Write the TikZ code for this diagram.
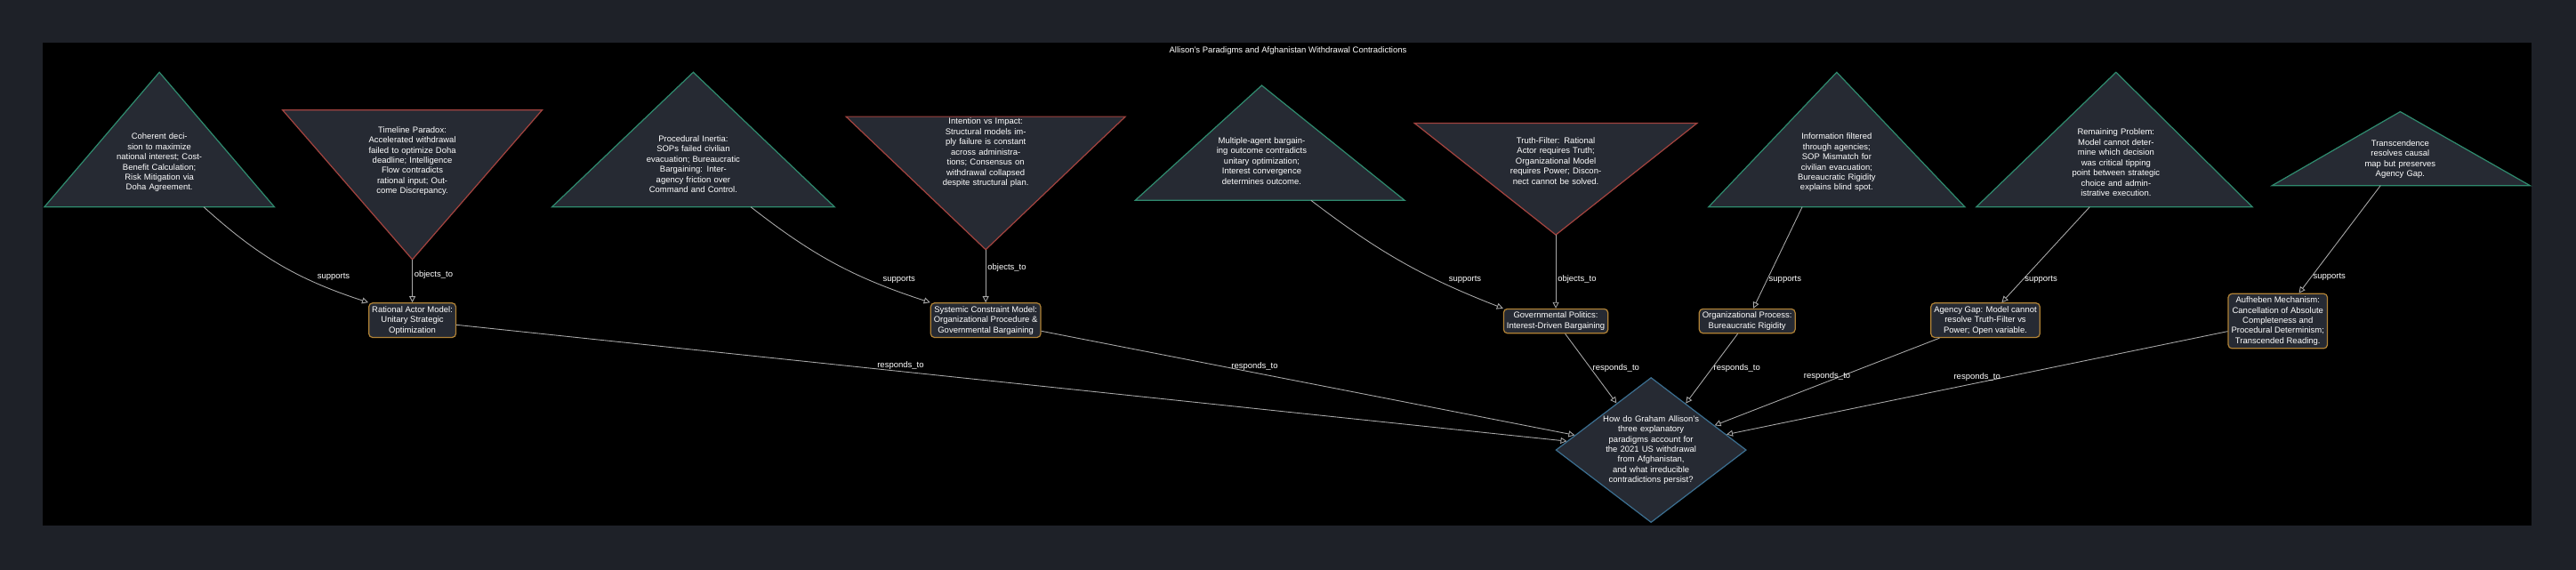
\documentclass[tikz,border=0pt]{standalone}
\usepackage{fontspec}
\setmainfont{Liberation Sans}
\usetikzlibrary{arrows.meta,shapes.geometric}
\definecolor{outerbg}{HTML}{1E2128}
\definecolor{shapefill}{HTML}{262A33}
\definecolor{upline}{HTML}{2F8A6E}
\definecolor{downline}{HTML}{A2433F}
\definecolor{boxline}{HTML}{B08236}
\definecolor{qline}{HTML}{3B6E8F}
\definecolor{edgegray}{HTML}{A8A8A8}
\tikzset{
  tiny/.style={font=\fontsize{2.7}{3.25}\selectfont, text=white, align=center},
  tritext/.style={tiny, inner sep=0pt},
  uptri/.style={draw=upline, fill=shapefill, line width=0.35pt, line join=miter},
  downtri/.style={draw=downline, fill=shapefill, line width=0.35pt, line join=miter},
  model/.style={tiny, draw=boxline, fill=shapefill, rounded corners=1.2pt, line width=0.35pt, inner sep=1pt},
  edge/.style={draw=edgegray, line width=0.25pt, -{Triangle[open,length=2pt,width=2pt]}},
  elabel/.style={tiny, inner sep=0.5pt}
}
\begin{document}
\begin{tikzpicture}[x=0.01847cm, y=-0.01847cm]

% ---------------------------
% Canvas
% ---------------------------
\fill[outerbg] (0,0) rectangle (1568,347);
\fill[black] (26,26) rectangle (1541,320);
\useasboundingbox (0,0) rectangle (1568,347);
\node[tiny] (title) at (784,31) {Allison's Paradigms and Afghanistan Withdrawal Contradictions};

% ---------------------------
% Triangles (claims and objections)
% ---------------------------
\draw[uptri]   (97,44) -- (167,126) -- (27,126) -- cycle;
\draw[downtri] (172,67) -- (330,67) -- (251,158) -- cycle;
\draw[uptri]   (422,44) -- (508,126) -- (336,126) -- cycle;
\draw[downtri] (515,71) -- (685,71) -- (600,152) -- cycle;
\draw[uptri]   (768,52) -- (855,122) -- (691,122) -- cycle;
\draw[downtri] (861,75) -- (1033,75) -- (947,143) -- cycle;
\draw[uptri]   (1118,44) -- (1196,126) -- (1040,126) -- cycle;
\draw[uptri]   (1288,44) -- (1371,126) -- (1203,126) -- cycle;
\draw[uptri]   (1461,68) -- (1540,113) -- (1383,113) -- cycle;

\node[tritext, text width=1.0cm] (t1) at (97,99) {Coherent decision to maximize national interest; Cost-Benefit Calculation; Risk Mitigation via Doha Agreement.};
\node[tritext, text width=1.0cm] (t2) at (251,98) {Timeline Paradox: Accelerated withdrawal failed to optimize Doha deadline; Intelligence Flow contradicts rational input; Outcome Discrepancy.};
\node[tritext, text width=1.05cm] (t3) at (422,100) {Procedural Inertia: SOPs failed civilian evacuation; Bureaucratic Bargaining: Inter-agency friction over Command and Control.};
\node[tritext, text width=1.05cm] (t4) at (600,93) {Intention vs Impact: Structural models imply failure is constant across administrations; Consensus on withdrawal collapsed despite structural plan.};
\node[tritext, text width=1.05cm] (t5) at (768,98) {Multiple-agent bargaining outcome contradicts unitary optimization; Interest convergence determines outcome.};
\node[tritext, text width=1.05cm] (t6) at (947,98) {Truth-Filter: Rational Actor requires Truth; Organizational Model requires Power; Disconnect cannot be solved.};
\node[tritext, text width=1.0cm] (t7) at (1118,99) {Information filtered through agencies; SOP Mismatch for civilian evacuation; Bureaucratic Rigidity explains blind spot.};
\node[tritext, text width=1.05cm] (t8) at (1288,99) {Remaining Problem: Model cannot determine which decision was critical tipping point between strategic choice and administrative execution.};
\node[tritext, text width=1.0cm] (t9) at (1461,97) {Transcendence resolves causal map but preserves Agency Gap.};

% connector ends on the triangles
\coordinate (c1) at (124,126);
\coordinate (c2) at (251,158);
\coordinate (c3) at (457,126);
\coordinate (c4) at (600,152);
\coordinate (c5) at (798,122);
\coordinate (c6) at (947,143);
\coordinate (c7) at (1097,126);
\coordinate (c8) at (1272,126);
\coordinate (c9) at (1449,113);

% ---------------------------
% Models and question
% ---------------------------
\node[model] (rational) at (251,195) {Rational Actor Model:\\Unitary Strategic\\Optimization};
\node[model] (systemic) at (600,195) {Systemic Constraint Model:\\Organizational Procedure \&\\Governmental Bargaining};
\node[model] (govpol) at (947,195.5) {Governmental Politics:\\Interest-Driven Bargaining};
\node[model] (orgproc) at (1063.5,195.5) {Organizational Process:\\Bureaucratic Rigidity};
\node[model] (agency) at (1208.5,195) {Agency Gap: Model cannot\\resolve Truth-Filter vs\\Power; Open variable.};
\node[model] (aufheben) at (1386.5,195.5) {Aufheben Mechanism:\\Cancellation of Absolute\\Completeness and\\Procedural Determinism;\\Transcended Reading.};

\node[diamond, draw=qline, fill=shapefill, line width=0.35pt, minimum width=116\pgflinewidth, inner sep=0pt,
  minimum width=2.14cm, minimum height=1.63cm, aspect=1.31] (question) at (1005,274) {};
\node[tiny, text width=1.1cm] (qtext) at (1005,274) {How do Graham Allison's three explanatory paradigms account for the 2021 US withdrawal from Afghanistan, and what irreducible contradictions persist?};

% ---------------------------
% Connectors
% ---------------------------
\draw[edge] (c1) to[bend right=12] node[elabel, pos=0.72, above right] {supports} (rational.north west);
\draw[edge] (c2) -- node[elabel, pos=0.35, right] {objects\_to} (rational);
\draw[edge] (c3) to[bend right=10] node[elabel, pos=0.76, above right] {supports} (systemic.north west);
\draw[edge] (c4) -- node[elabel, pos=0.35, right] {objects\_to} (systemic);
\draw[edge] (c5) to[bend right=8] node[elabel, pos=0.74, above right] {supports} (govpol.north west);
\draw[edge] (c6) -- node[elabel, pos=0.6, right] {objects\_to} (govpol);
\draw[edge] (c7) -- node[elabel, pos=0.72, right] {supports} (orgproc);
\draw[edge] (c8) -- node[elabel, pos=0.76, right] {supports} (agency);
\draw[edge] (c9) -- node[elabel, pos=0.85, right] {supports} (aufheben);

\draw[edge] (rational) -- node[elabel, pos=0.4, above] {responds\_to} (question);
\draw[edge] (systemic) -- node[elabel, pos=0.4, above] {responds\_to} (question);
\draw[edge] (govpol) -- node[elabel, pos=0.5, right] {responds\_to} (question);
\draw[edge] (orgproc) -- node[elabel, pos=0.5, right] {responds\_to} (question);
\draw[edge] (agency) -- node[elabel, pos=0.5, above] {responds\_to} (question);
\draw[edge] (aufheben) -- node[elabel, pos=0.5, above] {responds\_to} (question);

\end{tikzpicture}
\end{document}
